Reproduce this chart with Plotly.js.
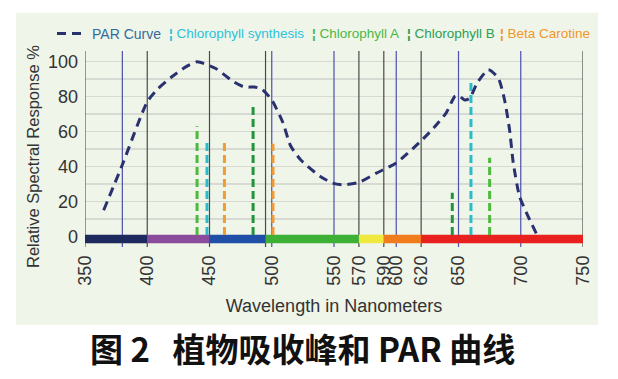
<!DOCTYPE html>
<html>
<head>
<meta charset="utf-8">
<script src="https://cdn.plot.ly/plotly-3.0.1.min.js"></script>
<style>
html,body{margin:0;padding:0;background:#fff;}
#chart{width:618px;height:379px;}
</style>
</head>
<body>
<div id="chart"></div>
<script>
// ---- data ----
const parWavelength = [365, 380, 400, 408, 420, 430, 440, 455, 469, 478, 486, 492, 500, 509, 515, 523, 539, 549, 557, 570, 584, 600, 619, 630, 640, 647, 650, 655, 659, 665, 674, 682, 687, 691, 694, 699, 706, 713];
const parResponse   = [15, 41, 77, 84, 91.4, 96.5, 99.8, 96, 88.6, 85.4, 85.4, 84.2, 78, 65, 52, 44, 34.3, 30.5, 29.5, 30.9, 36.2, 42, 54, 62, 70.5, 80, 80.6, 78, 79, 87.7, 95.3, 90.5, 78, 61, 42, 23, 11.4, 1];

const chlSynthWavelength = [448, 660];
const chlSynthResponse   = [55, 90];
const chlAWavelength     = [440, 675];
const chlAResponse       = [63, 45];
const chlBWavelength     = [485, 645];
const chlBResponse       = [76, 25];
const betaWavelength     = [462, 501];
const betaResponse       = [54, 53];

const bandStart  = [350, 400, 450, 495, 570, 590, 620];
const bandEnd    = [400, 450, 495, 570, 590, 620, 750];
const bandColors = ['#1e2a5e', '#8a4b9c', '#1f4fa6', '#3db135', '#efe83e', '#f07c1e', '#e8201e'];

const blueGuideLines = [350, 380, 500, 550, 600, 650, 700];
const grayGuideLines = [400, 450, 495, 570, 590, 620, 750];

const xTickValues = [350, 400, 450, 500, 550, 570, 590, 600, 620, 650, 700, 750];
const yTickValues = [0, 20, 40, 60, 80, 100];

const legendNames  = ['Chlorophyll synthesis', 'Chlorophyll A', 'Chlorophyll B', 'Beta Carotine'];
const legendColors = ['#2cc3d9', '#4bb847', '#2c9e52', '#f2962b'];

// ---- styling ----
const FONT = 'Liberation Sans, Arial, sans-serif';
const Y_LO = -6, Y_HI = 106;

function segments(xs, y0s, y1s) {
  const x = [], y = [];
  xs.forEach((v, i) => { x.push(v, v, null); y.push(y0s[i], y1s[i], null); });
  return {x, y};
}

const traces = [];
// guide lines
[[blueGuideLines, '#4d4fae'], [grayGuideLines, '#4a4a4a']].forEach(([arr, col]) => {
  const s = segments(arr, arr.map(() => Y_LO), arr.map(() => Y_HI));
  traces.push({type: 'scatter', mode: 'lines', x: s.x, y: s.y, line: {color: col, width: 1.2},
    hoverinfo: 'skip', showlegend: false});
});
// spectrum bar
bandStart.forEach((s, i) => {
  traces.push({type: 'scatter', mode: 'lines', x: [s, bandEnd[i]], y: [-1.4, -1.4],
    line: {color: bandColors[i], width: 8.5}, hoverinfo: 'skip', showlegend: false});
});
// absorption peaks
[[chlAWavelength, chlAResponse, '#4cbb3c', 'Chlorophyll A'],
 [chlBWavelength, chlBResponse, '#23933d', 'Chlorophyll B'],
 [chlSynthWavelength, chlSynthResponse, '#2bbcc9', 'Chlorophyll synthesis'],
 [betaWavelength, betaResponse, '#f39a35', 'Beta Carotine']].forEach(([xs, ys, col, nm]) => {
  const s = segments(xs, xs.map(() => 0.8), ys);
  traces.push({type: 'scatter', mode: 'lines', x: s.x, y: s.y, name: nm,
    line: {color: col, width: 3, dash: '8px,4px'}, showlegend: false});
});
// PAR curve
traces.push({type: 'scatter', mode: 'lines', x: parWavelength, y: parResponse, name: 'PAR Curve',
  line: {color: '#2a316f', width: 3, dash: '9px,6px', shape: 'spline', smoothing: 0.6},
  showlegend: true});

// legend annotations
const legendX = [167, 310, 405, 498];
const annotations = legendNames.map((n, i) => ({
  xref: 'paper', yref: 'paper', x: (legendX[i] - 85) / 498, y: (247 - 34) / 196,
  xanchor: 'left', yanchor: 'middle', showarrow: false,
  text: '<b>¦</b> ' + n, font: {family: FONT, size: 13.5, color: legendColors[i]}
}));
// y-axis title placed as in the reference
annotations.push({
  xref: 'paper', yref: 'paper', x: (33 - 85) / 498, y: (247 - 157) / 196,
  xanchor: 'center', yanchor: 'middle', showarrow: false, textangle: -90,
  text: 'Relative Spectral Response %', font: {family: FONT, size: 16.5, color: '#333333'}
});
annotations.push({
  xref: 'paper', yref: 'paper', x: (302.5 - 85) / 498, y: (247 - 347.5) / 196,
  xanchor: 'center', yanchor: 'middle', showarrow: false,
  text: '<b>图\u00a02\u00a0\u00a0 植物吸收峰和 PAR 曲线</b>',
  font: {family: 'Noto Sans CJK SC, sans-serif', size: 33, color: '#111111'}
});

const layout = {
  width: 618, height: 379,
  margin: {l: 85, r: 35, t: 51, b: 132},
  paper_bgcolor: '#ffffff',
  plot_bgcolor: 'rgba(0,0,0,0)',
  showlegend: true,
  legend: {orientation: 'h', x: (52 - 85) / 498, y: (247 - 34) / 196, xanchor: 'left', yanchor: 'middle',
    bgcolor: 'rgba(0,0,0,0)', font: {family: FONT, size: 14, color: '#336c9c'}},
  xaxis: {range: [350, 750], tickvals: xTickValues, ticktext: xTickValues.map(String), tickangle: -90,
    showgrid: false, zeroline: false, showline: false, ticks: '',
    tickfont: {family: FONT, size: 18, color: '#333333'}, ticklabelstandoff: 4,
    title: {text: 'Wavelength in Nanometers', font: {family: FONT, size: 18, color: '#333333'}, standoff: 14}},
  yaxis: {range: [Y_LO, Y_HI], tickvals: yTickValues, showgrid: true, gridcolor: '#d6dad3', gridwidth: 1.3,
    minor: {tickvals: [10, 30, 50, 70, 90], showgrid: true, gridcolor: '#d6dad3', gridwidth: 1.3},
    zeroline: false, showline: false, ticks: '', ticklabelstandoff: 6,
    tickfont: {family: FONT, size: 18, color: '#333333'}},
  shapes: [{type: 'rect', xref: 'paper', yref: 'paper', layer: 'below',
    x0: (16 - 85) / 498, x1: (598 - 85) / 498, y0: (247 - 325) / 196, y1: (247 - 12.7) / 196,
    fillcolor: '#eff5e9', line: {width: 0}}],
  annotations: annotations
};

Plotly.newPlot('chart', traces, layout, {displayModeBar: false, staticPlot: true});
</script>
</body>
</html>
